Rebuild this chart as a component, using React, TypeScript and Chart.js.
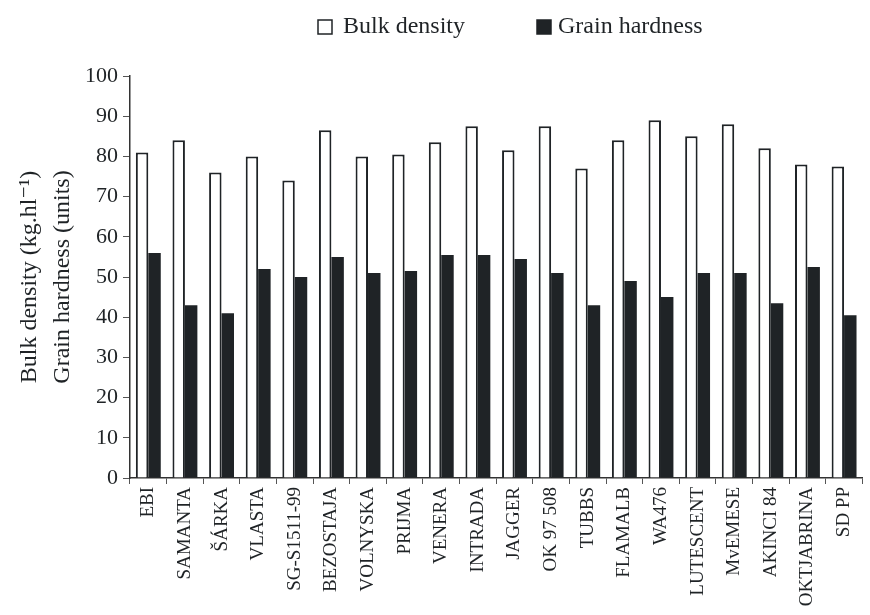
import React, { useEffect, useRef } from "react";
import { Chart, registerables } from "chart.js";

Chart.register(...registerables);

const categories = [
  "EBI", "SAMANTA", "ŠÁRKA", "VLASTA", "SG-S1511-99", "BEZOSTAJA", "VOLNYSKA",
  "PRIJMA", "VENERA", "INTRADA", "JAGGER", "OK 97 508", "TUBBS", "FLAMALB",
  "WA476", "LUTESCENT", "MvEMESE", "AKINCI 84", "OKTJABRINA", "SD PP",
];
const bulkDensity = [81, 84, 76, 80, 74, 86.5, 80, 80.5, 83.5, 87.5, 81.5, 87.5, 77, 84, 89, 85, 88, 82, 78, 77.5];
const grainHardness = [56, 43, 41, 52, 50, 55, 51, 51.5, 55.5, 55.5, 54.5, 51, 43, 49, 45, 51, 51, 43.5, 52.5, 40.5];
const yTicks = [0, 10, 20, 30, 40, 50, 60, 70, 80, 90, 100];
const seriesNames = ["Bulk density", "Grain hardness"];

const FONT = "'Liberation Serif', 'DejaVu Serif', serif";
const INK = "#1f2326";

const legendPlugin = {
  id: "topLegend",
  afterDraw(chart: any) {
    const ctx = chart.ctx;
    ctx.save();
    ctx.font = `24px ${FONT}`;
    ctx.textBaseline = "middle";
    ctx.fillStyle = INK;
    const items = [
      { box: 318, text: 343, fill: "#ffffff" },
      { box: 537, text: 558, fill: INK },
    ];
    items.forEach((it, i) => {
      ctx.fillStyle = it.fill;
      ctx.fillRect(it.box, 20, 14, 14);
      ctx.strokeStyle = INK;
      ctx.lineWidth = 1.5;
      ctx.strokeRect(it.box, 20, 14, 14);
      ctx.fillStyle = INK;
      ctx.fillText(seriesNames[i], it.text, 27);
    });
    ctx.restore();
  },
};

export default function App() {
  const ref = useRef<HTMLCanvasElement | null>(null);
  useEffect(() => {
    document.body.style.margin = "0";
    const chart = new Chart(ref.current!, {
      type: "bar",
      data: {
        labels: categories,
        datasets: [
          {
            label: seriesNames[0],
            data: bulkDensity,
            backgroundColor: "#ffffff",
            borderColor: INK,
            borderWidth: 2,
            borderSkipped: "bottom",
          },
          {
            label: seriesNames[1],
            data: grainHardness,
            backgroundColor: INK,
            borderWidth: 0,
          },
        ],
      },
      plugins: [legendPlugin],
      options: {
        animation: false,
        responsive: false,
        maintainAspectRatio: false,
        layout: { padding: { top: 76, right: 5, left: 0, bottom: 0 } },
        datasets: { bar: { categoryPercentage: 0.68, barPercentage: 1.0 } },
        plugins: {
          tooltip: { enabled: false },
          legend: { display: false },
        },
        scales: {
          x: {
            offset: true,
            afterFit: (axis: any) => {
              axis.height = 137;
            },
            grid: {
              offset: true,
              drawOnChartArea: false,
              drawTicks: true,
              tickLength: 6,
              color: "#555",
            },
            border: { color: "#333", width: 1.5 },
            ticks: {
              color: INK,
              font: { family: FONT, size: 19 },
              maxRotation: 90,
              minRotation: 90,
              autoSkip: false,
              padding: 3,
            },
          },
          y: {
            min: 0,
            max: 100,
            afterFit: (axis: any) => {
              axis.width = 130;
            },
            afterBuildTicks: (axis: any) => {
              axis.ticks = yTicks.map((v) => ({ value: v }));
            },
            grid: {
              drawOnChartArea: false,
              drawTicks: true,
              tickLength: 7,
              color: "#555",
            },
            border: { color: "#333", width: 1.5 },
            ticks: {
              color: INK,
              font: { family: FONT, size: 22 },
              padding: 5,
            },
            title: {
              display: true,
              text: ["Bulk density (kg.hl⁻¹)", "Grain hardness (units)"],
              color: INK,
              font: { family: FONT, size: 24, lineHeight: 1.38 },
              padding: { top: 13, bottom: 0 },
            },
          },
        },
      },
    });
    return () => chart.destroy();
  }, []);
  return (
    <div style={{ position: "fixed", left: 0, top: 0, width: 870, height: 615, background: "#fff" }}>
      <canvas ref={ref} width={870} height={615} style={{ width: 870, height: 615 }} />
    </div>
  );
}
